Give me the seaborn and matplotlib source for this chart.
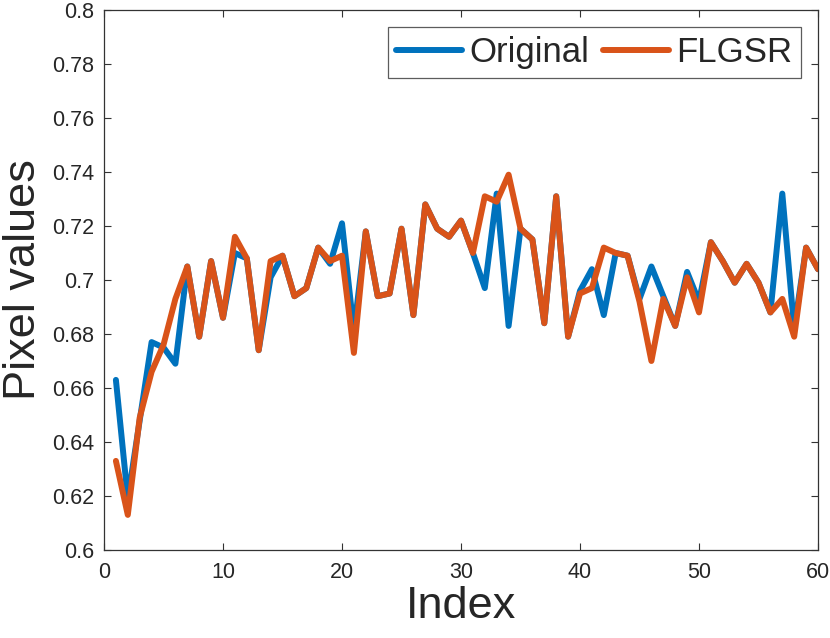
import numpy as np
import pandas as pd
import matplotlib
matplotlib.use("Agg")
import matplotlib.pyplot as plt
import seaborn as sns

sns.set_style("ticks")
plt.rcParams['font.family'] = ['Liberation Sans', 'DejaVu Sans']

# values
index = list(range(1, 61))
original = [0.663, 0.619, 0.648, 0.677, 0.675, 0.669, 0.705, 0.679, 0.707, 0.686,
            0.710, 0.708, 0.674, 0.701, 0.709, 0.694, 0.697, 0.712, 0.706, 0.721,
            0.681, 0.718, 0.694, 0.695, 0.719, 0.687, 0.728, 0.719, 0.716, 0.722,
            0.710, 0.697, 0.732, 0.683, 0.719, 0.715, 0.684, 0.731, 0.679, 0.696,
            0.704, 0.687, 0.710, 0.709, 0.693, 0.705, 0.694, 0.683, 0.703, 0.692,
            0.714, 0.707, 0.699, 0.706, 0.699, 0.688, 0.732, 0.682, 0.712, 0.704]
flgsr = [0.633, 0.613, 0.649, 0.666, 0.676, 0.693, 0.705, 0.679, 0.707, 0.686,
         0.716, 0.708, 0.674, 0.707, 0.709, 0.694, 0.697, 0.712, 0.707, 0.709,
         0.673, 0.718, 0.694, 0.695, 0.719, 0.687, 0.728, 0.719, 0.716, 0.722,
         0.710, 0.731, 0.729, 0.739, 0.719, 0.715, 0.684, 0.731, 0.679, 0.695,
         0.697, 0.712, 0.710, 0.709, 0.692, 0.670, 0.693, 0.683, 0.701, 0.688,
         0.714, 0.707, 0.699, 0.706, 0.699, 0.688, 0.693, 0.679, 0.712, 0.704]

df = pd.DataFrame({
    "Index": index * 2,
    "Pixel values": original + flgsr,
    "Series": ["Original"] * len(index) + ["FLGSR"] * len(index),
})

fig = plt.figure(figsize=(8.3, 6.38), dpi=100)
ax = fig.add_axes([104 / 830, 88 / 638, 714 / 830, 540 / 638])

sns.lineplot(data=df, x="Index", y="Pixel values", hue="Series",
             palette={"Original": "#0072BD", "FLGSR": "#D95319"},
             linewidth=4.3, ax=ax, legend=True)

ax.set_xlim(0, 60)
ax.set_ylim(0.6, 0.8)
ax.set_xticks([0, 10, 20, 30, 40, 50, 60])
ax.set_yticks(np.arange(0.6, 0.801, 0.02))
ax.set_yticklabels(["0.6", "0.62", "0.64", "0.66", "0.68", "0.7",
                    "0.72", "0.74", "0.76", "0.78", "0.8"])
ax.tick_params(direction="in", length=5, width=0.8, labelsize=15.5,
               top=True, right=True, colors="#333333", labelcolor="#262626")
ax.tick_params(axis="x", pad=9)
ax.tick_params(axis="y", pad=7)
for s in ax.spines.values():
    s.set_color("#333333")
    s.set_linewidth(0.9)

ax.set_xlabel("Index", fontsize=32.5, color="#262626", labelpad=2)
ax.set_ylabel("Pixel values", fontsize=32.5, color="#262626", labelpad=6)

leg = ax.legend(loc="upper right", ncol=2, fontsize=25, frameon=True,
                fancybox=False, edgecolor="#333333", handlelength=1.9,
                handletextpad=0.2, columnspacing=0.4, borderpad=0.25,
                borderaxespad=0.5)
leg.get_frame().set_linewidth(0.9)
for line in leg.get_lines():
    line.set_linewidth(4.3)

fig.savefig("out.png", dpi=100)
